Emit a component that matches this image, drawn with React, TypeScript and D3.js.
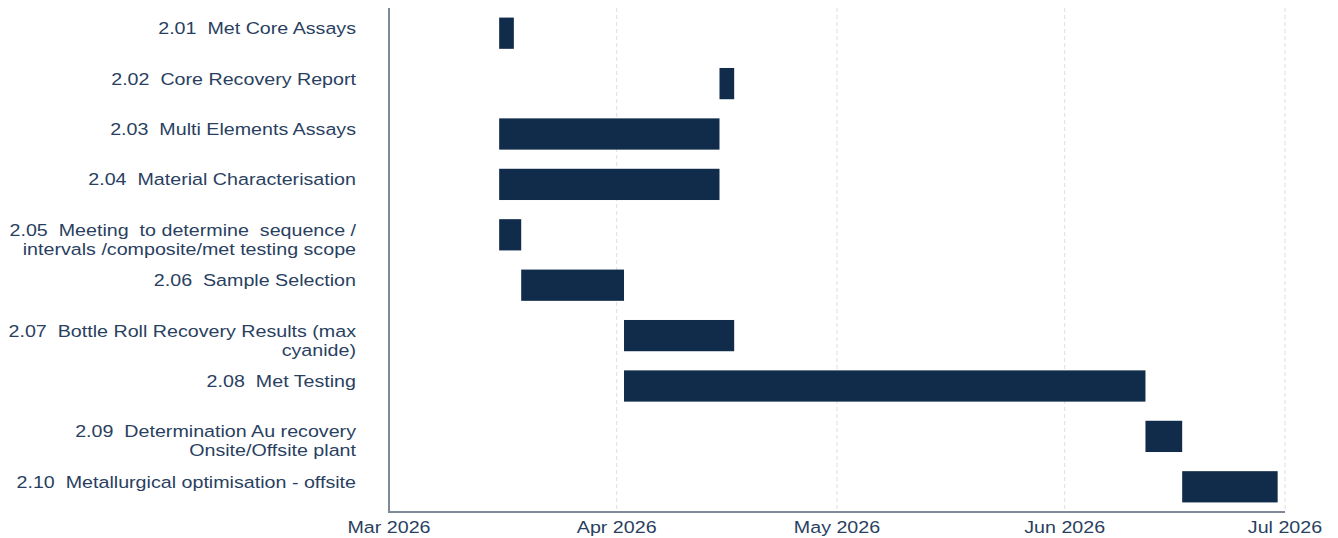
import { useEffect, useRef } from 'react';
import * as d3 from 'd3';

// task labels (multi-line ones split on \n)
const tasks = [
  '2.01  Met Core Assays',
  '2.02  Core Recovery Report',
  '2.03  Multi Elements Assays',
  '2.04  Material Characterisation',
  '2.05  Meeting  to determine  sequence /\nintervals /composite/met testing scope',
  '2.06  Sample Selection',
  '2.07  Bottle Roll Recovery Results (max\ncyanide)',
  '2.08  Met Testing',
  '2.09  Determination Au recovery\nOnsite/Offsite plant',
  '2.10  Metallurgical optimisation - offsite',
];
const starts = [
  '2026-03-16', '2026-04-15', '2026-03-16', '2026-03-16', '2026-03-16',
  '2026-03-19', '2026-04-02', '2026-04-02', '2026-06-12', '2026-06-17',
];
const ends = [
  '2026-03-18', '2026-04-17', '2026-04-15', '2026-04-15', '2026-03-19',
  '2026-04-02', '2026-04-17', '2026-06-12', '2026-06-17', '2026-06-30',
];
const tickDates = ['2026-03-01', '2026-04-01', '2026-05-01', '2026-06-01', '2026-07-01'];

const W = 1338;
const H = 538;
const TEXT = '#2a3f5f';
const BAR = '#112c4b';
const FONT = 'Liberation Sans, Arial, sans-serif';
const SX = 1.157; // the text in the picture is a bit stretched sideways

const App = () => {
  const chartRef = useRef<SVGSVGElement>(null);

  useEffect(() => {
    const svg = d3.select(chartRef.current);
    svg.selectAll('*').remove();

    const margin = { top: 8, right: 53, bottom: 26, left: 389 };
    const width = W - margin.left - margin.right;
    const height = H - margin.top - margin.bottom;
    const parse = d3.utcParse('%Y-%m-%d');

    const data = tasks.map((t, i) => ({
      label: t,
      start: parse(starts[i])!,
      end: parse(ends[i])!,
    }));

    const x = d3
      .scaleUtc()
      .domain([parse(tickDates[0])!, parse(tickDates[tickDates.length - 1])!])
      .range([0, width]);
    const y = d3
      .scaleBand()
      .domain(tasks)
      .range([0, height])
      .paddingInner(0.38)
      .paddingOuter(0.19);

    const g = svg.append('g').attr('transform', `translate(${margin.left},${margin.top})`);

    // gridlines
    g.selectAll('line.grid')
      .data(tickDates.slice(1).map((d) => parse(d)!))
      .enter()
      .append('line')
      .attr('class', 'grid')
      .attr('x1', (d) => x(d))
      .attr('x2', (d) => x(d))
      .attr('y1', 0)
      .attr('y2', height)
      .attr('stroke', '#dcdfe4')
      .attr('stroke-width', 1)
      .attr('stroke-dasharray', '4,3');

    // bars
    g.selectAll('rect.bar')
      .data(data)
      .enter()
      .append('rect')
      .attr('class', 'bar')
      .attr('x', (d) => x(d.start))
      .attr('y', (d) => y(d.label)!)
      .attr('width', (d) => x(d.end) - x(d.start))
      .attr('height', y.bandwidth())
      .attr('fill', BAR);

    // axes lines
    g.append('line')
      .attr('x1', 0).attr('x2', 0).attr('y1', 0).attr('y2', height)
      .attr('stroke', '#7f8a99').attr('stroke-width', 2);
    g.append('line')
      .attr('x1', -1).attr('x2', width).attr('y1', height).attr('y2', height)
      .attr('stroke', '#7f8a99').attr('stroke-width', 2);

    // x tick labels
    const fmt = d3.utcFormat('%b %Y');
    g.selectAll('text.xtick')
      .data(tickDates.map((d) => parse(d)!))
      .enter()
      .append('text')
      .attr('class', 'xtick')
      .attr('transform', (d) => `translate(${x(d)},${height + 21}) scale(${SX},1)`)
      .attr('text-anchor', 'middle')
      .attr('font-family', FONT)
      .attr('font-size', 17)
      .attr('fill', TEXT)
      .text((d) => fmt(d));

    // y labels
    const labels = g.selectAll('text.ylab')
      .data(data)
      .enter()
      .append('text')
      .attr('class', 'ylab')
      .attr('text-anchor', 'end')
      .attr('font-family', FONT)
      .attr('font-size', 17)
      .attr('fill', TEXT)
      .style('white-space', 'pre')
      .attr('transform', (d) => `translate(-33,${y(d.label)! + y.bandwidth() / 2 - 5}) scale(${SX},1)`);
    labels.each(function (d) {
      const lines = d.label.split('\n');
      const t = d3.select(this);
      lines.forEach((ln, i) => {
        t.append('tspan')
          .attr('x', 0)
          .attr('y', i * 19)
          .attr('dy', '0.35em')
          .text(ln);
      });
    });

    return () => {
      d3.select(chartRef.current).selectAll('*').remove();
    };
  }, []);

  return (
    <div style={{ position: 'absolute', left: 0, top: 0 }}>
      <svg ref={chartRef} width={W} height={H} style={{ display: 'block', background: '#fff' }}></svg>
    </div>
  );
};

export default App;
